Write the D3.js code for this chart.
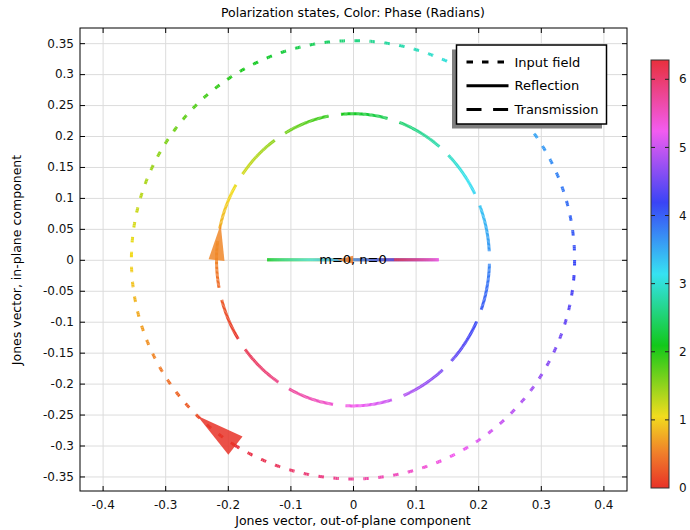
<!DOCTYPE html>
<html>
<head>
<meta charset="utf-8">
<script src="https://cdn.jsdelivr.net/npm/d3@7"></script>
<style>
  html, body { margin: 0; padding: 0; background: #fff; }
  svg { display: block; font-family: "DejaVu Sans", sans-serif; }
</style>
</head>
<body>
<div id="chart"></div>
<script>
// Polarization ellipses traced by the real part of each Jones vector, coloured by phase.

const seriesNames = ["Input field", "Reflection", "Transmission"];
// Jones vector per series: amplitude / phase (rad) of the out-of-plane (x) and in-plane (y) parts
const ampOut = [0.354, 0.137, 0.218];
const ampIn = [0.354, 0.0, 0.236];
const argOut = [2.13, 1.07, 2.58];
const argIn = [3.70, 0.0, 4.15];
const arrowPhase = [0.0, 0.5, 0.56];

const xTicks = [-0.4, -0.3, -0.2, -0.1, 0, 0.1, 0.2, 0.3, 0.4];
const yTicks = [-0.35, -0.3, -0.25, -0.2, -0.15, -0.1, -0.05, 0, 0.05, 0.1, 0.15, 0.2, 0.25, 0.3, 0.35];
const cbTicks = [0, 1, 2, 3, 4, 5, 6];

// cyclic colour table over [0, 2π]
const cmapStops = [0, 0.52, 1.05, 2.09, 3.14, 4.19, 5.24, 6.2832];
const cmapColors = ["#e83228", "#f0802a", "#f2dc1e", "#12c81a", "#36e2f2", "#3a44f6", "#f25cf0", "#e8303c"];

const W = 690, H = 530;
const margin = { top: 28, right: 63, bottom: 39, left: 80 };
const iw = W - margin.left - margin.right, ih = H - margin.top - margin.bottom;

const STYLE = {
  dash: ["5.5 9.5", null, "47 12.5"],
  dashOffset: [0, 0, 6],
  legendDash: ["6.5 9", null, "15 11.6"],
  width: 3,
  arrowLen: [48, 16, 36],
  arrowWide: [23, 8, 16],
};

const svg = d3.select("#chart").append("svg").attr("width", W).attr("height", H);
const g = svg.append("g").attr("transform", `translate(${margin.left},${margin.top})`);

const x = d3.scaleLinear().domain([-0.4361, 0.4377]).range([0, iw]);
const y = d3.scaleLinear().domain([-0.3735, 0.3745]).range([ih, 0]);
const cmap = d3.scaleLinear().domain(cmapStops).range(cmapColors).interpolate(d3.interpolateRgb).clamp(true);
const fmt = (v) => String(+v.toFixed(2));
const at = (k, p) => [x(ampOut[k] * Math.cos(p + argOut[k])), y(ampIn[k] * Math.cos(p + argIn[k]))];

// grid
g.append("g").attr("transform", `translate(0,${ih})`)
  .call(d3.axisBottom(x).tickValues(xTicks).tickSize(-ih).tickFormat(""))
  .call((s) => s.select(".domain").remove())
  .call((s) => s.selectAll("line").attr("stroke", "#dcdcdc").attr("stroke-width", 1));
g.append("g")
  .call(d3.axisLeft(y).tickValues(yTicks).tickSize(-iw).tickFormat(""))
  .call((s) => s.select(".domain").remove())
  .call((s) => s.selectAll("line").attr("stroke", "#dcdcdc").attr("stroke-width", 1));

// curves
const N = 720;
const phases = d3.range(N + 1).map((i) => (i / N) * 2 * Math.PI);
const curves = g.append("g").attr("stroke-linecap", "butt");

seriesNames.forEach((name, k) => {
  const pts = phases.map((p) => [...at(k, p), p]);
  let cum = STYLE.dashOffset[k];
  const segs = [];
  for (let i = 0; i < N; i++) {
    const a = pts[i], b = pts[i + 1];
    segs.push({ a, b, off: cum, c: cmap((a[2] + b[2]) / 2) });
    cum += Math.hypot(b[0] - a[0], b[1] - a[1]);
  }
  curves.append("g").selectAll("line").data(segs).join("line")
    .attr("x1", (d) => d.a[0]).attr("y1", (d) => d.a[1])
    .attr("x2", (d) => d.b[0]).attr("y2", (d) => d.b[1])
    .attr("stroke", (d) => d.c).attr("stroke-width", STYLE.width)
    .attr("stroke-dasharray", STYLE.dash[k])
    .attr("stroke-dashoffset", (d) => (STYLE.dash[k] ? d.off : null));
});

// direction arrows: base on the curve at the arrow phase, tip further along the curve
seriesNames.forEach((name, k) => {
  const p = arrowPhase[k];
  const [bx, by] = at(k, p);
  let tip = at(k, p), q = p;
  while (Math.hypot(tip[0] - bx, tip[1] - by) < STYLE.arrowLen[k] && q < p + Math.PI) {
    q += 0.002;
    tip = at(k, q);
  }
  const n = Math.hypot(tip[0] - bx, tip[1] - by) || 1;
  const ux = (tip[0] - bx) / n, uy = (tip[1] - by) / n, w = STYLE.arrowWide[k] / 2;
  const tri = [tip, [bx - uy * w, by + ux * w], [bx + uy * w, by - ux * w]];
  g.append("path").attr("d", "M" + tri.join("L") + "Z")
    .attr("fill", cmap(p)).attr("fill-opacity", 0.85);
});

g.append("text").attr("x", x(0)).attr("y", y(0)).attr("dy", "0.35em")
  .attr("text-anchor", "middle").attr("font-size", 13).attr("fill", "#000").text("m=0, n=0");

// axes, ticks inward on all four sides
const styleAxis = (s) => s.call((t) => t.selectAll("line").attr("stroke", "#000"))
  .call((t) => t.select(".domain").remove())
  .call((t) => t.selectAll("text").attr("fill", "#111").attr("font-size", 12).style("font-family", "DejaVu Sans"));
g.append("g").attr("transform", `translate(0,${ih})`)
  .call(d3.axisBottom(x).tickValues(xTicks).tickSize(-5).tickPadding(9).tickFormat(fmt)).call(styleAxis);
g.append("g").call(d3.axisTop(x).tickValues(xTicks).tickSize(-5).tickFormat("")).call(styleAxis);
g.append("g")
  .call(d3.axisLeft(y).tickValues(yTicks).tickSize(-5).tickPadding(6).tickFormat(fmt)).call(styleAxis);
g.append("g").attr("transform", `translate(${iw},0)`)
  .call(d3.axisRight(y).tickValues(yTicks).tickSize(-5).tickFormat("")).call(styleAxis);
g.append("rect").attr("width", iw).attr("height", ih).attr("fill", "none").attr("stroke", "#000");

// legend
const lg = svg.append("g").attr("transform", "translate(456.5,45)");
lg.append("rect").attr("x", -4.5).attr("y", 4.5).attr("width", 150).attr("height", 79).attr("fill", "#7f7f7f");
lg.append("rect").attr("width", 150).attr("height", 79).attr("fill", "#fff").attr("stroke", "#000").attr("stroke-width", 1.5);
seriesNames.forEach((name, k) => {
  const ly = 17 + k * 23.7;
  lg.append("line").attr("x1", 10).attr("x2", 52).attr("y1", ly).attr("y2", ly)
    .attr("stroke", "#000").attr("stroke-width", 3).attr("stroke-dasharray", STYLE.legendDash[k]);
  lg.append("text").attr("x", 58).attr("y", ly).attr("dy", "0.35em").attr("font-size", 13).text(name);
});

// colour bar
const cb = { x: 651, y: 60, w: 18, h: 428 };
const cy = d3.scaleLinear().domain([0, 2 * Math.PI]).range([cb.y + cb.h, cb.y]);
const grad = svg.append("defs").append("linearGradient").attr("id", "cyc")
  .attr("x1", 0).attr("y1", 1).attr("x2", 0).attr("y2", 0);
grad.selectAll("stop").data(cmapStops).join("stop")
  .attr("offset", (d) => d / (2 * Math.PI)).attr("stop-color", (d, i) => cmapColors[i]);
svg.append("rect").attr("x", cb.x).attr("y", cb.y).attr("width", cb.w).attr("height", cb.h)
  .attr("fill", "url(#cyc)").attr("stroke", "#333").attr("stroke-width", 1);
const cbt = svg.append("g");
cbTicks.forEach((v) => {
  if (v > 0) {
    cbt.append("line").attr("x1", cb.x).attr("x2", cb.x + 4).attr("y1", cy(v)).attr("y2", cy(v)).attr("stroke", "#222");
    cbt.append("line").attr("x1", cb.x + cb.w - 4).attr("x2", cb.x + cb.w).attr("y1", cy(v)).attr("y2", cy(v)).attr("stroke", "#222");
  }
  cbt.append("text").attr("x", cb.x + cb.w + 10).attr("y", cy(v)).attr("dy", "0.35em")
    .attr("font-size", 12).attr("fill", "#111").text(v);
});

// titles
svg.append("text").attr("x", 353).attr("y", 17).attr("text-anchor", "middle").attr("font-size", 12.5)
  .text("Polarization states, Color: Phase (Radians)");
svg.append("text").attr("x", 353).attr("y", 525).attr("text-anchor", "middle").attr("font-size", 12.5)
  .text("Jones vector, out-of-plane component");
svg.append("text").attr("transform", "translate(21,260) rotate(-90)").attr("text-anchor", "middle").attr("font-size", 12.5)
  .text("Jones vector, in-plane component");
</script>
</body>
</html>
